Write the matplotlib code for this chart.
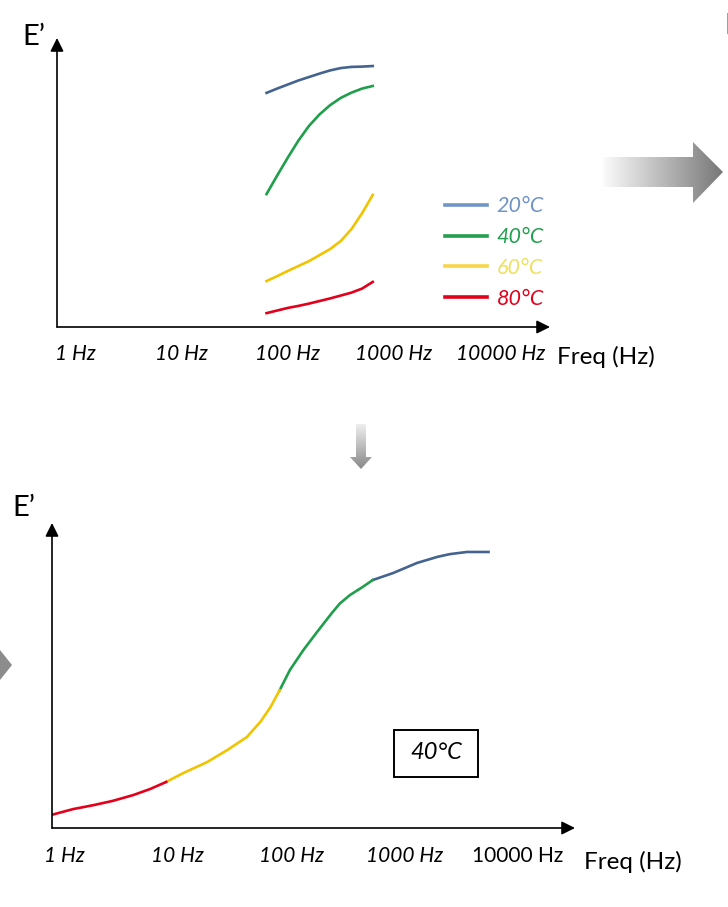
import numpy as np
import matplotlib
matplotlib.use('Agg')
import matplotlib.pyplot as plt
from matplotlib.patches import Polygon, Rectangle
from matplotlib.lines import Line2D
from matplotlib.colors import LinearSegmentedColormap

plt.rcParams['font.family'] = ['Lato', 'DejaVu Sans']

# ---- top panel : E' vs log10(freq) at each test temperature ----
logf_top = [1.80, 1.90, 2.00, 2.10, 2.20, 2.30, 2.40, 2.50, 2.60, 2.70, 2.80]
e_20c = [8.10, 8.25, 8.39, 8.53, 8.65, 8.77, 8.88, 8.96, 9.00, 9.01, 9.03]
e_40c = [4.60, 5.24, 5.86, 6.45, 6.96, 7.36, 7.68, 7.93, 8.11, 8.25, 8.34]
e_60c = [1.59, 1.76, 1.94, 2.11, 2.28, 2.49, 2.70, 2.98, 3.39, 3.94, 4.57]
e_80c = [0.48, 0.57, 0.66, 0.73, 0.81, 0.90, 0.99, 1.09, 1.19, 1.33, 1.56]

temps = ['20°C', '40°C', '60°C', '80°C']
curve_colors = ['#44648f', '#1f9e4c', '#f0c400', '#e3001b']
legend_line_colors = ['#7095c6', '#22a04f', '#f7d54a', '#e3001b']
legend_text_colors = ['#6f93c6', '#22a04f', '#f0e060', '#e3001b']

tick_pos = [0, 1, 2, 3, 4]
tick_labels = ['1 Hz', '10 Hz', '100 Hz', '1000 Hz', '10000 Hz']

# ---- bottom panel : master curve at 40°C (shifted pieces) ----
mc_logf_80 = [-0.11, 0.08, 0.26, 0.43, 0.61, 0.76, 0.90]
mc_e_80 = [0.43, 0.62, 0.75, 0.89, 1.08, 1.28, 1.51]
mc_logf_60 = [0.90, 1.05, 1.26, 1.44, 1.61, 1.73, 1.82, 1.90]
mc_e_60 = [1.51, 1.80, 2.16, 2.56, 2.98, 3.48, 3.97, 4.52]
mc_logf_40 = [1.90, 1.99, 2.11, 2.23, 2.36, 2.43, 2.52, 2.63, 2.72]
mc_e_40 = [4.52, 5.18, 5.84, 6.43, 7.05, 7.36, 7.64, 7.90, 8.13]
mc_logf_20 = [2.72, 2.90, 3.11, 3.29, 3.40, 3.55, 3.74]
mc_e_20 = [8.13, 8.36, 8.69, 8.89, 8.98, 9.05, 9.05]

W, H = 728, 907
fig = plt.figure(figsize=(W / 100, H / 100), dpi=100)

# decoration layer in pixel units (grey arrows)
deco = fig.add_axes([0, 0, 1, 1])
deco.axis('off')


def shaded_arrow(ax, verts, horizontal, c0, c1):
    verts = np.array(verts, float)
    x0, y0 = verts.min(axis=0)
    x1, y1 = verts.max(axis=0)
    t = np.linspace(0, 1, 256)
    g = np.outer(np.ones(2), t) if horizontal else np.outer(t, np.ones(2))
    cmap = LinearSegmentedColormap.from_list('g', [c0, c1])
    im = ax.imshow(g, cmap=cmap, extent=(x0, x1, y1, y0), origin='upper',
                   aspect='auto', interpolation='bilinear')
    poly = Polygon(verts, closed=True, fc='none', ec='none')
    ax.add_patch(poly)
    im.set_clip_path(poly)


shaded_arrow(deco, [(603, 157), (693, 157), (693, 142), (723, 172),
                    (693, 203), (693, 187), (603, 187)], True, '#fbfbfb', '#777777')
shaded_arrow(deco, [(356, 424), (366, 424), (366, 457), (372, 457),
                    (361, 469), (350, 457), (356, 457)], False, '#efefef', '#888888')
deco.add_patch(Polygon([(0, 650), (12, 665), (0, 680)], closed=True,
                       fc='#8c8c8c', ec='none'))
deco.set_xlim(0, W)
deco.set_ylim(H, 0)


def frame(ax, xlim, pad):
    ax.set_xlim(xlim)
    ax.set_ylim(0, 10)
    ax.patch.set_alpha(0)
    for s in ax.spines.values():
        s.set_visible(False)
    ax.set_yticks([])
    ax.set_xticks(tick_pos, tick_labels, fontsize=15, style='italic')
    ax.tick_params(axis='x', length=0, pad=pad)
    arr = dict(arrowstyle='-|>', color='black', lw=1.2, mutation_scale=20,
               shrinkA=0, shrinkB=0)
    ax.annotate('', xy=(1, 0), xytext=(0, 0), xycoords='axes fraction', arrowprops=arr)
    ax.annotate('', xy=(0, 1), xytext=(0, 0), xycoords='axes fraction', arrowprops=arr)


# top panel
ax1 = fig.add_axes([57 / W, (H - 327) / H, 493 / W, 289 / H])
frame(ax1, (-0.173, 4.469), 12)
for e, c in zip([e_20c, e_40c, e_60c, e_80c], curve_colors):
    ax1.plot(logf_top, e, color=c, lw=1.9, solid_joinstyle='round')
handles = [Line2D([], [], color=c, lw=2.6) for c in legend_line_colors]
leg = ax1.legend(handles, temps, loc='upper left', bbox_to_anchor=(0.787, 0.452),
                 frameon=False, handlelength=1.95, handletextpad=0.45,
                 labelspacing=0.5, borderpad=0, borderaxespad=0,
                 labelcolor=legend_text_colors,
                 prop=dict(family=['Lato', 'DejaVu Sans'], style='italic', size=15.5))

fig.text(22 / W, 1 - 37 / H, 'E’', fontsize=21, va='center', ha='left')
fig.text(557 / W, 1 - 357 / H, 'Freq (Hz)', fontsize=17.5, va='center', ha='left')
fig.text(724 / W, 1 - 26 / H, 'E’', fontsize=21, va='center', ha='left')

# bottom panel
ax2 = fig.add_axes([52 / W, (H - 828) / H, 523 / W, 305 / H])
frame(ax2, (-0.106, 4.502), 13)
ax2.get_xticklabels()[4].set_fontstyle('normal')
for lf, e, c in zip([mc_logf_20, mc_logf_40, mc_logf_60, mc_logf_80],
                    [mc_e_20, mc_e_40, mc_e_60, mc_e_80], curve_colors):
    ax2.plot(lf, e, color=c, lw=1.9, solid_joinstyle='round')
ax2.add_patch(Rectangle((0.654, 0.167), 0.161, 0.154, fill=False, lw=1.4,
                        ec='black', transform=ax2.transAxes))
ax2.text(0.734, 0.246, '40°C', transform=ax2.transAxes, fontsize=17,
         style='italic', ha='center', va='center')

fig.text(12 / W, 1 - 508 / H, 'E’', fontsize=21, va='center', ha='left')
fig.text(584 / W, 1 - 862 / H, 'Freq (Hz)', fontsize=17.5, va='center', ha='left')

fig.savefig('out.png', dpi=100, facecolor='white')
